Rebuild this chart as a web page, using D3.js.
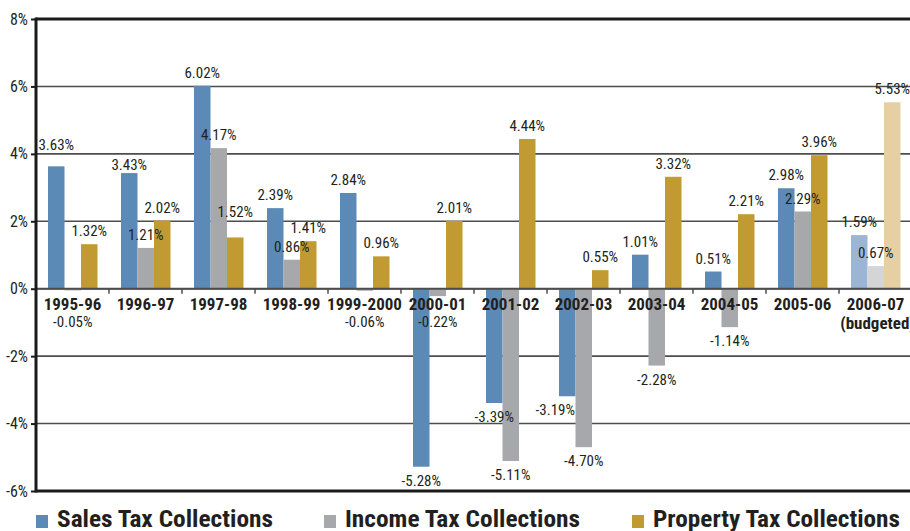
<html>
<head>
<script src="https://d3js.org/d3.v7.min.js"></script>
<style>
body { margin: 0; background: #fff; }
text { font-family: "Liberation Sans Narrow", "Roboto Condensed", "DejaVu Sans Condensed", "Arial Narrow", sans-serif; fill: #231f20; }
</style>
</head>
<body>
<svg width="910" height="531"></svg>
<script>
// chart values
var categories = ["1995-96","1996-97","1997-98","1998-99","1999-2000","2000-01","2001-02","2002-03","2003-04","2004-05","2005-06","2006-07"];
var salesTax    = [3.63, 3.43, 6.02, 2.39, 2.84, -5.28, -3.39, -3.19, 1.01, 0.51, 2.98, 1.59];
var incomeTax   = [-0.05, 1.21, 4.17, 0.86, -0.06, -0.22, -5.11, -4.70, -2.28, -1.14, 2.29, 0.67];
var propertyTax = [1.32, 2.02, 1.52, 1.41, 0.96, 2.01, 4.44, 0.55, 3.32, 2.21, 3.96, 5.53];
var seriesNames = ["Sales Tax Collections", "Income Tax Collections", "Property Tax Collections"];
var yTicks = [-6, -4, -2, 0, 2, 4, 6, 8];
var budgetedCat = "2006-07";

var colors = ["#5b8ab7", "#a7a8ac", "#c19a31"];
var lightColors = ["#9db5d5", "#d4d5d7", "#e6cfa2"];

var svg = d3.select("svg");

var x0 = d3.scaleBand().domain(categories).range([36, 912]);
var x1 = d3.scaleBand().domain(seriesNames).range([12, 61.5]);
var y = d3.scaleLinear().domain([-6, 8]).range([491, 19]);

// gridlines
svg.append("g").selectAll("line")
  .data(yTicks)
  .enter().append("line")
    .attr("x1", 36).attr("x2", 910)
    .attr("y1", function(d){ return y(d); })
    .attr("y2", function(d){ return y(d); })
    .attr("stroke", function(d){ return (d == 8 || d == -6) ? "#1a1a1a" : "#4d4d4d"; })
    .attr("stroke-width", function(d){ return (d == 8 || d == -6) ? 3 : 1.6; });

// y axis
var yAxis = d3.axisLeft(y).tickValues(yTicks).tickFormat(function(d){ return d + "%"; }).tickSize(5).tickPadding(3);
var yg = svg.append("g").attr("transform", "translate(36,0)").call(yAxis);
yg.select(".domain").remove();
yg.selectAll(".tick line").attr("stroke", "#1a1a1a").attr("stroke-width", 2);
yg.selectAll(".tick text").style("font-size", "16px").attr("fill", "#231f20");

// bars
var rows = [];
categories.forEach(function(c, i) {
  var vals = [salesTax[i], incomeTax[i], propertyTax[i]];
  vals.forEach(function(v, j) {
    rows.push({cat: c, s: seriesNames[j], j: j, v: v});
  });
});

svg.append("g").selectAll("rect")
  .data(rows)
  .enter().append("rect")
    .attr("x", function(d){ return x0(d.cat) + x1(d.s); })
    .attr("width", x1.bandwidth())
    .attr("y", function(d){ return y(Math.max(0, d.v)); })
    .attr("height", function(d){ return Math.max(1, Math.abs(y(d.v) - y(0))); })
    .attr("fill", function(d){ return d.cat == budgetedCat ? lightColors[d.j] : colors[d.j]; });

// zero axis + ticks between categories
svg.append("line")
  .attr("x1", 36).attr("x2", 910)
  .attr("y1", y(0)).attr("y2", y(0))
  .attr("stroke", "#4d4d4d").attr("stroke-width", 2);
svg.append("g").selectAll("line")
  .data(categories.slice(1))
  .enter().append("line")
    .attr("x1", function(d){ return x0(d); })
    .attr("x2", function(d){ return x0(d); })
    .attr("y1", y(0)).attr("y2", y(0) + 5)
    .attr("stroke", "#4d4d4d").attr("stroke-width", 1.5);

// left axis line
svg.append("line")
  .attr("x1", 36).attr("x2", 36)
  .attr("y1", y(8) - 1.5).attr("y2", y(-6) + 1.5)
  .attr("stroke", "#1a1a1a").attr("stroke-width", 3);

// category labels
svg.append("g").selectAll("text")
  .data(categories)
  .enter().append("text")
    .attr("x", function(d){ return x0(d) + x0.bandwidth() / 2; })
    .attr("y", 310)
    .attr("text-anchor", "middle")
    .style("font-size", "17px")
    .style("font-weight", "bold")
    .text(function(d){ return d; });
svg.append("text")
  .attr("x", x0(budgetedCat) + x0.bandwidth() / 2 + 2)
  .attr("y", 329)
  .attr("text-anchor", "middle")
  .style("font-size", "17px")
  .style("font-weight", "bold")
  .text("(budgeted)");

// value labels (a few are nudged like in the original)
var nudge = {
  "1995-96|0": [0, -8],
  "1996-97|0": [0, 5],
  "1997-98|2": [0, -12],
  "2002-03|0": [-12, 0]
};
svg.append("g").selectAll("text")
  .data(rows)
  .enter().append("text")
    .attr("x", function(d){
      var n = nudge[d.cat + "|" + d.j] || [0, 0];
      return x0(d.cat) + x1(d.s) + x1.bandwidth() / 2 + n[0];
    })
    .attr("y", function(d){
      var n = nudge[d.cat + "|" + d.j] || [0, 0];
      var base = d.v >= 0 ? y(d.v) - 8 : Math.max(y(d.v) + 19, 327);
      return base + n[1];
    })
    .attr("text-anchor", "middle")
    .style("font-size", "15px")
    .text(function(d){ return d.v.toFixed(2) + "%"; });

// legend
var legendX = [36, 324, 632];
var legendW = [216, 235, 247];
var lg = svg.append("g").selectAll("g")
  .data(seriesNames)
  .enter().append("g")
    .attr("transform", function(d, i){ return "translate(" + legendX[i] + ",0)"; });
lg.append("rect")
  .attr("x", 0).attr("y", 515).attr("width", 12).attr("height", 13)
  .attr("fill", function(d, i){ return colors[i]; });
lg.append("text")
  .attr("x", 21).attr("y", 527)
  .attr("textLength", function(d, i){ return legendW[i]; })
  .attr("lengthAdjust", "spacingAndGlyphs")
  .style("font-size", "24px")
  .style("font-weight", "bold")
  .text(function(d){ return d; });
</script>
</body>
</html>
